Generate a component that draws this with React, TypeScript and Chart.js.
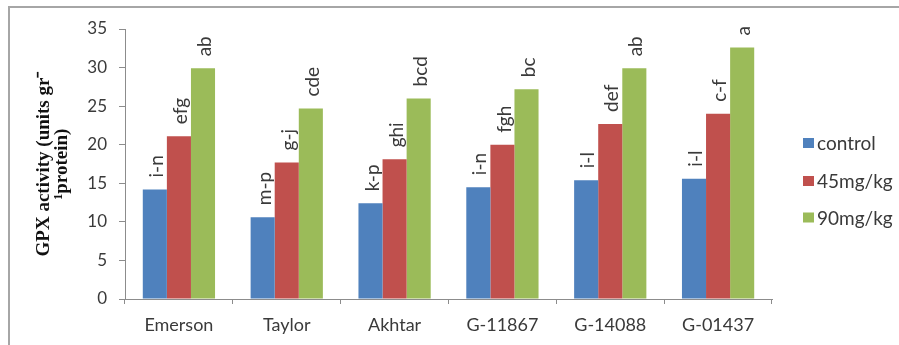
import React, { useEffect, useRef } from "react";
import { Chart, registerables } from "chart.js";

Chart.register(...registerables);

const categories = ["Emerson", "Taylor", "Akhtar", "G-11867", "G-14088", "G-01437"];
const controlValues = [14.2, 10.6, 12.4, 14.5, 15.4, 15.6];
const mg45Values = [21.1, 17.7, 18.1, 20.0, 22.7, 24.0];
const mg90Values = [29.9, 24.7, 26.0, 27.2, 29.9, 32.6];
const controlLetters = ["i-n", "m-p", "k-p", "i-n", "i-l", "i-l"];
const mg45Letters = ["efg", "g-j", "ghi", "fgh", "def", "c-f"];
const mg90Letters = ["ab", "cde", "bcd", "bc", "ab", "a"];
const seriesNames = ["control", "45mg/kg", "90mg/kg"];
const seriesColors = ["#4F81BD", "#C0504D", "#9BBB59"];
const yTicks = [0, 5, 10, 15, 20, 25, 30, 35];

const W = 899;
const H = 345;
const textColor = "#3a3a3a";
const axisColor = "#8c8c8c";

// Frame: left and top rule around the figure
const framePlugin = {
  id: "frame",
  beforeDraw(chart: any) {
    const ctx = chart.ctx;
    ctx.save();
    ctx.fillStyle = "#ffffff";
    ctx.fillRect(0, 0, chart.width, chart.height);
    ctx.strokeStyle = "#a6a6a6";
    ctx.lineWidth = 2;
    ctx.beginPath();
    ctx.moveTo(9, chart.height);
    ctx.lineTo(9, 7);
    ctx.lineTo(chart.width, 7);
    ctx.stroke();
    ctx.restore();
  },
};

// Significance letters, rotated, above each bar
const letterPlugin = {
  id: "letters",
  afterDatasetsDraw(chart: any) {
    const ctx = chart.ctx;
    ctx.save();
    ctx.font = "19px Lato";
    ctx.fillStyle = textColor;
    ctx.textAlign = "left";
    ctx.textBaseline = "middle";
    chart.data.datasets.forEach((ds: any, di: number) => {
      const meta = chart.getDatasetMeta(di);
      meta.data.forEach((bar: any, i: number) => {
        const txt = ds.letters[i];
        ctx.save();
        ctx.translate(bar.x + 2, bar.y - 12);
        ctx.rotate(-Math.PI / 2);
        ctx.fillText(txt, 0, 0);
        ctx.restore();
      });
    });
    ctx.restore();
  },
};

// Legend on the right
const legendPlugin = {
  id: "sideLegend",
  afterDraw(chart: any) {
    const ctx = chart.ctx;
    ctx.save();
    ctx.font = "19px Lato";
    ctx.textAlign = "left";
    ctx.textBaseline = "middle";
    const rows = [143, 181, 217.5];
    seriesNames.forEach((name, i) => {
      ctx.fillStyle = seriesColors[i];
      ctx.fillRect(803, rows[i] - 5, 11, 10);
      ctx.fillStyle = textColor;
      ctx.fillText(name, 817, rows[i] + 1);
    });
    ctx.restore();
  },
};

export default function App() {
  const ref = useRef<HTMLCanvasElement | null>(null);

  useEffect(() => {
    if (!ref.current) return;
    const chart = new Chart(ref.current, {
      type: "bar",
      data: {
        labels: categories,
        datasets: [
          { label: seriesNames[0], data: controlValues, backgroundColor: seriesColors[0], letters: controlLetters } as any,
          { label: seriesNames[1], data: mg45Values, backgroundColor: seriesColors[1], letters: mg45Letters } as any,
          { label: seriesNames[2], data: mg90Values, backgroundColor: seriesColors[2], letters: mg90Letters } as any,
        ],
      },
      options: {
        animation: false,
        responsive: false,
        maintainAspectRatio: false,
        devicePixelRatio: 1,
        datasets: { bar: { categoryPercentage: 0.67, barPercentage: 1.0 } },
        layout: { padding: { left: 0, right: W - 772, top: 29, bottom: 0 } },
        plugins: {
          legend: { display: false },
          tooltip: { enabled: false },
          title: { display: false },
        },
        scales: {
          x: {
            afterFit(scale: any) {
              scale.height = H - 299;
            },
            grid: {
              offset: true,
              drawOnChartArea: false,
              drawTicks: true,
              tickLength: 5,
              color: axisColor,
            },
            border: { color: axisColor, width: 1 },
            ticks: {
              color: textColor,
              font: { family: "Lato", size: 18 },
              padding: 10,
              maxRotation: 0,
            },
          },
          y: {
            min: 0,
            max: 35,
            afterFit(scale: any) {
              scale.width = 125;
            },
            afterBuildTicks(scale: any) {
              scale.ticks = yTicks.map((v) => ({ value: v }));
            },
            grid: {
              drawOnChartArea: false,
              drawTicks: true,
              tickLength: 6,
              color: axisColor,
            },
            border: { color: axisColor, width: 1 },
            ticks: {
              color: textColor,
              font: { family: "Lato", size: 17 },
              padding: 12,
            },
            title: {
              display: true,
              text: ["GPX activity (units gr\u207B", "\u00B9protein)"],
              color: "#111111",
              font: { family: "Liberation Serif", weight: "bold", size: 19, lineHeight: 0.95 },
              padding: { top: 35, bottom: 0 },
            },
          },
        },
      },
      plugins: [framePlugin, letterPlugin, legendPlugin],
    });
    return () => chart.destroy();
  }, []);

  return (
    <div style={{ position: "absolute", left: 0, top: 0, width: W, height: H, background: "#fff" }}>
      <canvas ref={ref} width={W} height={H} style={{ display: "block", width: W, height: H }} />
    </div>
  );
}
